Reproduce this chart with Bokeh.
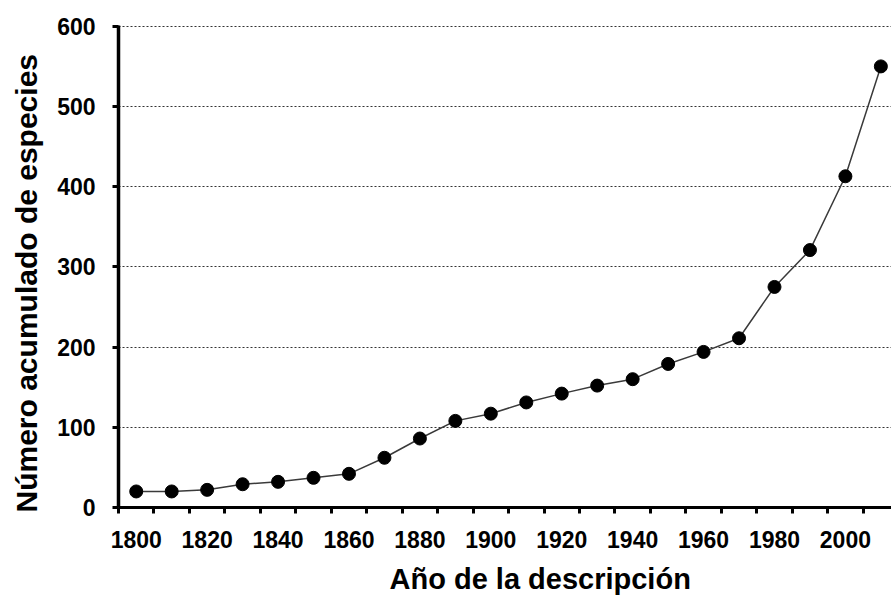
from bokeh.plotting import figure
from bokeh.models import FixedTicker, Range1d, Title
from bokeh.embed import file_html
from bokeh.resources import INLINE

# Data
years = [1800, 1810, 1820, 1830, 1840, 1850, 1860, 1870, 1880, 1890, 1900,
         1910, 1920, 1930, 1940, 1950, 1960, 1970, 1980, 1990, 2000, 2010]
species = [20, 20, 22, 29, 32, 37, 42, 62, 86, 108, 117,
           131, 142, 152, 160, 179, 194, 211, 275, 321, 413, 550]

x_label_years = [1800, 1820, 1840, 1860, 1880, 1900, 1920, 1940, 1960, 1980, 2000]
x_boundaries = [1795, 1805, 1815, 1825, 1835, 1845, 1855, 1865, 1875, 1885, 1895,
                1905, 1915, 1925, 1935, 1945, 1955, 1965, 1975, 1985, 1995, 2005]
y_ticks = [0, 100, 200, 300, 400, 500, 600]

x_title = "Año de la descripción"
y_title = "Número acumulado  de especies"

FONT = "Liberation Sans"

p = figure(width=891, height=608, output_backend="svg", toolbar_location=None,
           x_range=Range1d(1795, 2013), y_range=Range1d(0, 601),
           min_border_left=118, min_border_right=0, min_border_top=25,
           min_border_bottom=101)
p.outline_line_color = None
p.background_fill_color = "white"
p.border_fill_color = "white"

# grid
p.xgrid.visible = False
p.ygrid.grid_line_color = "#333333"
p.ygrid.grid_line_width = 1
p.ygrid.grid_line_dash = "2 2"

# x axis
p.xaxis.ticker = FixedTicker(ticks=x_label_years, minor_ticks=x_boundaries)
p.xaxis.axis_line_width = 3
p.xaxis.axis_line_color = "black"
p.xaxis.major_tick_out = 0
p.xaxis.major_tick_in = 0
p.xaxis.minor_tick_out = 6
p.xaxis.minor_tick_in = 0
p.xaxis.minor_tick_line_width = 3
p.xaxis.minor_tick_line_color = "black"
p.xaxis.major_label_standoff = 17
p.xaxis.major_label_text_font = FONT
p.xaxis.major_label_text_font_style = "bold"
p.xaxis.major_label_text_font_size = "23px"
p.xaxis.major_label_text_color = "black"

# y axis
p.yaxis.ticker = FixedTicker(ticks=y_ticks)
p.yaxis.axis_line_width = 3.5
p.yaxis.axis_line_color = "black"
p.yaxis.major_tick_out = 6
p.yaxis.major_tick_in = 0
p.yaxis.major_tick_line_width = 3
p.yaxis.major_tick_line_color = "black"
p.yaxis.minor_tick_out = 0
p.yaxis.minor_tick_in = 0
p.yaxis.major_label_standoff = 17
p.yaxis.major_label_text_font = FONT
p.yaxis.major_label_text_font_style = "bold"
p.yaxis.major_label_text_font_size = "23px"
p.yaxis.major_label_text_color = "black"

# axis titles
xt = Title(text=x_title, align="left", offset=271, standoff=21,
           text_font=FONT, text_font_style="bold", text_font_size="29px",
           text_color="black")
p.add_layout(xt, "below")
yt = Title(text=y_title, align="left", offset=-5, standoff=19,
           vertical_align="top",
           text_font=FONT, text_font_style="bold", text_font_size="30px",
           text_color="black")
p.add_layout(yt, "left")

# series
p.line(years, species, line_color="#3a3a3a", line_width=1.5)
p.scatter(years, species, size=13, fill_color="black", line_color="black")

open("out.html", "w").write(file_html(p, INLINE))
